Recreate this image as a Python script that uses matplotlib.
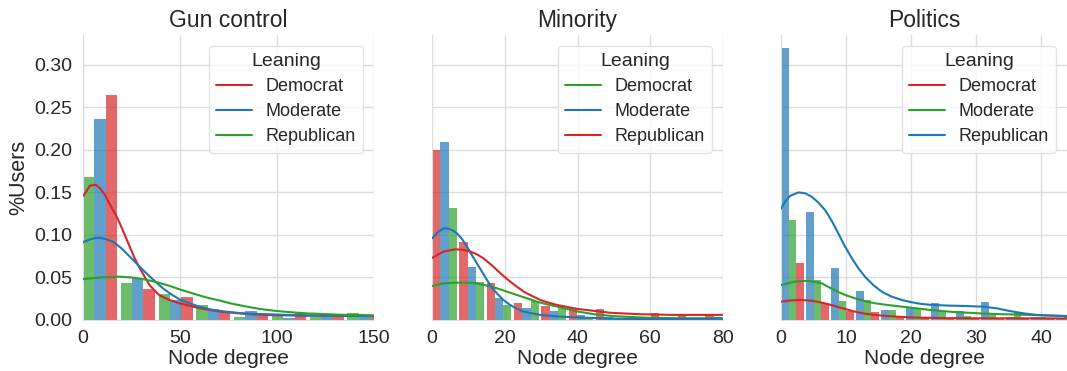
# =====================================================
# IMPORT LIBRARIES
# =====================================================
import numpy as np
import matplotlib
matplotlib.use("Agg")
import matplotlib.pyplot as plt
import seaborn as sns

# =====================================================
# DATA
# =====================================================
leanings = ["Democrat", "Moderate", "Republican"]

# --- Gun control ---
gun_bin_width = 19.45
gun_dem = [0.265, 0.037, 0.027, 0.010, 0.005, 0.008, 0.006, 0.003]
gun_mod = [0.236, 0.049, 0.023, 0.013, 0.011, 0.002, 0.003, 0.004]
gun_rep = [0.168, 0.044, 0.030, 0.018, 0.004, 0.007, 0.003, 0.008]
gun_kde_dem_x = [0, 0.5, 3.6, 6.5, 8.7, 11.3, 13.8, 16.4, 18.9, 21.5, 24.1, 26.6, 29.2, 31.7,
                 34.3, 36.9, 39.4, 44.5, 49.7, 60.3, 70.6, 80.4, 91, 110, 130, 150]
gun_kde_dem_y = [0.146, 0.147, 0.158, 0.159, 0.155, 0.147, 0.136, 0.1255, 0.114, 0.100, 0.086,
                 0.0725, 0.061, 0.051, 0.041, 0.0345, 0.029, 0.0235, 0.0196, 0.0137, 0.0098,
                 0.0078, 0.006, 0.0052, 0.0048, 0.0047]
gun_kde_mod_x = [0, 0.5, 4.4, 7.8, 11.3, 15.5, 19.8, 24.1, 28.3, 32.6, 36.9, 41.1, 45.4, 49.7,
                 54.8, 59.9, 66.7, 73.6, 82.1, 90.7, 111.2, 130, 150]
gun_kde_mod_y = [0.091, 0.092, 0.0953, 0.0969, 0.0953, 0.0921, 0.0843, 0.0745, 0.0647, 0.0549,
                 0.0459, 0.0373, 0.0302, 0.0243, 0.0196, 0.0157, 0.0118, 0.0098, 0.0078, 0.0071,
                 0.0055, 0.005, 0.0047]
gun_kde_rep_x = [0, 9, 18.2, 25, 31, 38, 44.8, 50, 56.9, 63, 70.6, 77, 84.4, 91, 98, 106, 115,
                 132, 150]
gun_kde_rep_y = [0.048, 0.050, 0.051, 0.050, 0.048, 0.0445, 0.040, 0.0358, 0.031, 0.0268, 0.0227,
                 0.019, 0.0157, 0.013, 0.011, 0.0093, 0.0078, 0.0062, 0.0055]

# --- Minority ---
min_bin_width = 7.52
min_dem = [0.132, 0.045, 0.018, 0.022, 0.014, 0.004, 0.002, 0.002, 0.002, 0.001, 0.002]
min_mod = [0.209, 0.062, 0.026, 0.014, 0.010, 0.006, 0.003, 0.003, 0.002, 0.002, 0.003]
min_rep = [0.200, 0.092, 0.043, 0.020, 0.016, 0.014, 0.013, 0.002, 0.0086, 0.007, 0.007]
min_kde_dem_x = [0, 3.1, 6.8, 9.6, 12.3, 15.1, 17.8, 20.6, 23.3, 26.1, 28.8, 31.6, 34.4, 40,
                 45, 50, 60, 70, 80]
min_kde_dem_y = [0.040, 0.0431, 0.0439, 0.0439, 0.0431, 0.0404, 0.0373, 0.0333, 0.0294, 0.0255,
                 0.0216, 0.0184, 0.0157, 0.010, 0.0065, 0.0045, 0.0025, 0.002, 0.002]
min_kde_mod_x = [0, 1.74, 3.1, 4.0, 5.4, 6.8, 8.2, 9.6, 10.9, 12.3, 13.7, 15.1, 16.4, 17.8, 19.6,
                 21.5, 23.3, 25.2, 29.8, 35, 40, 50, 60, 80]
min_kde_mod_y = [0.096, 0.1039, 0.1074, 0.1078, 0.1059, 0.102, 0.0953, 0.0863, 0.0765, 0.0667,
                 0.0569, 0.047, 0.0384, 0.0314, 0.0235, 0.0176, 0.0133, 0.0098, 0.0059, 0.004,
                 0.003, 0.0015, 0.001, 0.0015]
min_kde_rep_x = [0, 3.1, 6.3, 8.6, 10.5, 12.3, 14.1, 16.0, 17.8, 19.6, 21.5, 23.3, 25.2, 27.5,
                 29.8, 32.0, 34.4, 40, 45, 49, 57, 66, 80]
min_kde_rep_y = [0.073, 0.0804, 0.0831, 0.0824, 0.0804, 0.0773, 0.0725, 0.0659, 0.0588, 0.0518,
                 0.0451, 0.0392, 0.0333, 0.0282, 0.0235, 0.0204, 0.0176, 0.013, 0.0105, 0.0085,
                 0.0068, 0.006, 0.006]

# --- Politics ---
pol_bin_width = 3.85
pol_dem = [0.067, 0.020, 0.011, 0.009, 0.003, 0.002, 0.002, 0.001, 0.002, 0.001, 0.002, 0.001]
pol_mod = [0.118, 0.047, 0.022, 0.024, 0.012, 0.013, 0.011, 0.005, 0.008, 0.008, 0.004, 0.003]
pol_rep = [0.320, 0.127, 0.061, 0.034, 0.012, 0.0145, 0.020, 0.0106, 0.021, 0.004, 0.003, 0.002]
pol_kde_dem_x = [0, 1.5, 3.2, 4.8, 6.3, 8, 9.5, 11, 12.6, 14.4, 16.2, 20, 25, 30, 44]
pol_kde_dem_y = [0.0216, 0.023, 0.0235, 0.0225, 0.0204, 0.017, 0.0137, 0.0105, 0.0078, 0.006,
                 0.0047, 0.003, 0.0022, 0.002, 0.0018]
pol_kde_mod_x = [0, 2, 3.9, 5, 6.3, 7.5, 8.8, 10, 11.4, 13, 14.5, 16.5, 18.6, 20.5, 22.9, 26,
                 30.6, 34, 38.3, 44]
pol_kde_mod_y = [0.041, 0.045, 0.046, 0.045, 0.043, 0.038, 0.033, 0.029, 0.0255, 0.022, 0.0196,
                 0.0175, 0.0157, 0.014, 0.0118, 0.0097, 0.0078, 0.0068, 0.006, 0.0045]
pol_kde_rep_x = [0, 0.6, 1.4, 2.7, 3.7, 4.7, 5.7, 6.8, 7.8, 8.8, 9.8, 10.9, 11.9, 12.9, 14.2,
                 15.5, 17.0, 18.6, 20, 21.5, 23, 25.5, 28, 31.1, 33.2, 35.2, 37.3, 39.3, 41.5, 44]
pol_kde_rep_y = [0.131, 0.139, 0.146, 0.150, 0.149, 0.145, 0.1384, 0.129, 0.1165, 0.102, 0.087,
                 0.0725, 0.0608, 0.051, 0.041, 0.0333, 0.0275, 0.0235, 0.021, 0.019, 0.0178,
                 0.017, 0.0165, 0.0157, 0.0137, 0.0105, 0.0078, 0.006, 0.0052, 0.0047]

# =====================================================
# STYLE
# =====================================================
sns.set_style("whitegrid")
plt.rcParams['font.family'] = ['Liberation Sans', 'DejaVu Sans']

RED = "#d62728"
BLUE = "#1f77b4"
GREEN = "#2ca02c"

panels = [
    {
        "title": "Gun control", "bw": gun_bin_width, "xlim": 150, "xticks": [0, 50, 100, 150],
        # bars in the order they sit inside each bin
        "bars": [(gun_rep, GREEN), (gun_mod, BLUE), (gun_dem, RED)],
        "kde": [(gun_kde_dem_x, gun_kde_dem_y, RED),
                (gun_kde_mod_x, gun_kde_mod_y, BLUE),
                (gun_kde_rep_x, gun_kde_rep_y, GREEN)],
    },
    {
        "title": "Minority", "bw": min_bin_width, "xlim": 80, "xticks": [0, 20, 40, 60, 80],
        "bars": [(min_rep, RED), (min_mod, BLUE), (min_dem, GREEN)],
        "kde": [(min_kde_dem_x, min_kde_dem_y, GREEN),
                (min_kde_mod_x, min_kde_mod_y, BLUE),
                (min_kde_rep_x, min_kde_rep_y, RED)],
    },
    {
        "title": "Politics", "bw": pol_bin_width, "xlim": 44, "xticks": [0, 10, 20, 30, 40],
        "bars": [(pol_rep, BLUE), (pol_mod, GREEN), (pol_dem, RED)],
        "kde": [(pol_kde_dem_x, pol_kde_dem_y, RED),
                (pol_kde_mod_x, pol_kde_mod_y, GREEN),
                (pol_kde_rep_x, pol_kde_rep_y, BLUE)],
    },
]

# =====================================================
# FIGURE
# =====================================================
fig = plt.figure(figsize=(10.67, 3.71), dpi=100)
lefts = [0.0778, 0.405, 0.732]
widths = [0.273, 0.2725, 0.268]

for i, p in enumerate(panels):
    ax = fig.add_axes([lefts[i], 0.1375, widths[i], 0.768])
    bw = p["bw"]
    sub = bw * 0.9 / 3
    for k, (heights, col) in enumerate(p["bars"]):
        x = np.arange(len(heights)) * bw + k * sub
        ax.bar(x, heights, width=sub, align="edge", color=col, alpha=0.7,
               linewidth=0, zorder=2)
    for (kx, ky, col), name in zip(p["kde"], leanings):
        ax.plot(kx, ky, color=col, lw=1.5, label=name, zorder=3,
                solid_joinstyle="round")

    ax.set_xlim(0, p["xlim"])
    ax.set_ylim(0, 0.335)
    ax.set_xticks(p["xticks"])
    ax.set_yticks([0, 0.05, 0.10, 0.15, 0.20, 0.25, 0.30])
    ax.set_title(p["title"], fontsize=16.5, pad=6)
    ax.set_xlabel("Node degree", fontsize=15, labelpad=1)
    ax.tick_params(axis="both", labelsize=14, pad=4)
    ax.grid(True, color="#dddddd", lw=1)
    ax.set_axisbelow(True)
    for s in ["top", "right"]:
        ax.spines[s].set_visible(False)
    for s in ["left", "bottom"]:
        ax.spines[s].set_color("#dddddd")
    if i == 0:
        ax.set_ylabel("%Users", fontsize=15.5, labelpad=4)
        ax.set_yticklabels(["0.00", "0.05", "0.10", "0.15", "0.20", "0.25", "0.30"])
    else:
        ax.set_yticklabels([])
    leg = ax.legend(title="Leaning", loc="upper right", fontsize=13,
                    title_fontsize=14, frameon=True, handlelength=2.0,
                    handletextpad=0.75, borderaxespad=0.6, labelspacing=0.45)
    leg.get_frame().set_edgecolor("#dddddd")

fig.savefig("out.png", dpi=100)
print("saved out.png")
